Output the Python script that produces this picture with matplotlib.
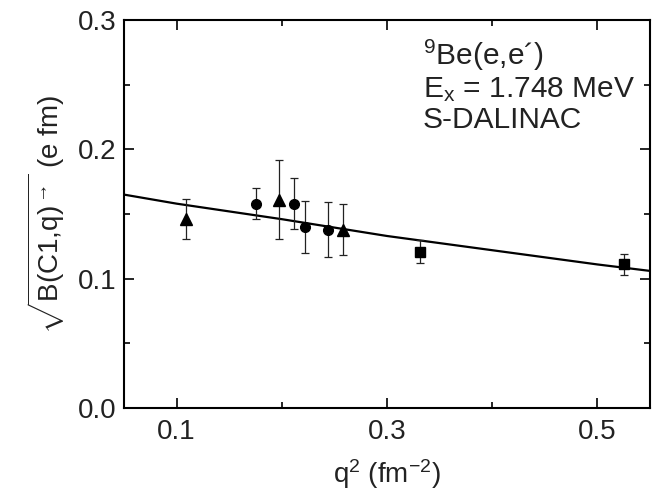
import matplotlib
matplotlib.use("Agg")
import matplotlib.pyplot as plt

plt.rcParams['font.family'] = ['Liberation Sans', 'DejaVu Sans']
plt.rcParams['mathtext.fontset'] = 'custom'
plt.rcParams['mathtext.rm'] = 'Liberation Sans'
plt.rcParams['mathtext.it'] = 'Liberation Sans:italic'
plt.rcParams['mathtext.bf'] = 'Liberation Sans:bold'

# Data
tri_q2 = [0.109, 0.197, 0.258]
tri_val = [0.146, 0.161, 0.138]
tri_err = [0.0155, 0.0305, 0.0195]

circ_q2 = [0.175, 0.212, 0.222, 0.244]
circ_val = [0.158, 0.158, 0.140, 0.138]
circ_err = [0.012, 0.0198, 0.020, 0.0215]

sq_q2 = [0.331, 0.525]
sq_val = [0.121, 0.111]
sq_err = [0.009, 0.0083]

fit_q2 = [0.05, 0.1, 0.2, 0.3, 0.4, 0.5, 0.55]
fit_val = [0.165, 0.158, 0.146, 0.133, 0.122, 0.111, 0.106]

x_ticks = [0.1, 0.3, 0.5]
x_minor = [0.2, 0.4]
y_ticks = [0.0, 0.1, 0.2, 0.3]
y_minor = [0.05, 0.15, 0.25]

TXT = '#222222'

fig = plt.figure(figsize=(6.55, 4.95), dpi=100)
ax = fig.add_axes([124/655, 1 - 408/495, (650-124)/655, (408-20)/495])

ax.plot(fit_q2, fit_val, color='black', lw=1.6, zorder=2)

eb_kw = dict(ls='none', color='black', ecolor='#222222', elinewidth=0.9,
             capsize=3, capthick=0.9, zorder=3)
ax.errorbar(tri_q2, tri_val, yerr=tri_err, marker='^', ms=8, **eb_kw)
ax.errorbar(circ_q2, circ_val, yerr=circ_err, marker='o', ms=7, **eb_kw)
ax.errorbar(sq_q2, sq_val, yerr=sq_err, marker='s', ms=6.5, **eb_kw)

ax.set_xlim(0.05, 0.55)
ax.set_ylim(0.0, 0.3)
ax.set_xticks(x_ticks)
ax.set_xticks(x_minor, minor=True)
ax.set_yticks(y_ticks)
ax.set_yticks(y_minor, minor=True)
ax.set_xticklabels([f"{v:.1f}" for v in x_ticks])
ax.set_yticklabels([f"{v:.1f}" for v in y_ticks])

for s in ax.spines.values():
    s.set_linewidth(1.5)
ax.tick_params(which='both', direction='in', top=True, right=True,
               labelsize=20, width=1.2, colors='black', labelcolor=TXT)
ax.tick_params(which='major', length=7)
ax.tick_params(which='minor', length=4.5)
ax.tick_params(axis='x', which='major', pad=8)
ax.tick_params(axis='y', which='major', pad=5.5)

ax.set_xlabel(r'q$^{2}$ (fm$^{-2}$)', fontsize=20, color=TXT, labelpad=9)
ax.set_ylabel(r'$\sqrt{\mathrm{B(C1{,}q)}^{\rightarrow}}$ (e fm)', fontsize=20,
              color=TXT, labelpad=8)

tx = 0.568
fs = 21.5
ax.text(tx, 0.884, r'$^{9}$Be(e,e´)', transform=ax.transAxes, fontsize=fs,
        color=TXT, va='baseline', ha='left')
ax.text(tx, 0.8015, r'E$_{\mathrm{x}}$ = 1.748 MeV', transform=ax.transAxes,
        fontsize=fs, color=TXT, va='baseline', ha='left')
ax.text(tx, 0.7216, 'S-DALINAC', transform=ax.transAxes, fontsize=fs,
        color=TXT, va='baseline', ha='left')

fig.savefig('out.png', dpi=100, facecolor='white')
